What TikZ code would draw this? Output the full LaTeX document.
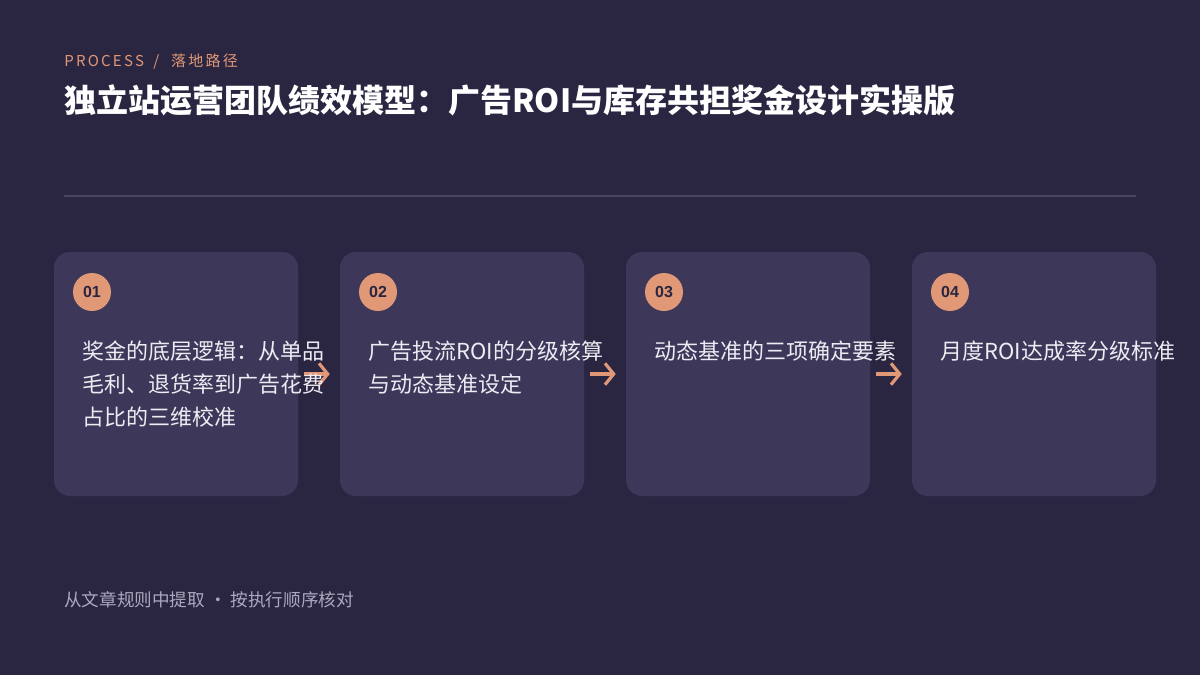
\documentclass[tikz,border=0pt]{standalone}
\usepackage{fontspec}
\setmainfont{Noto Sans CJK SC}
\newfontfamily\spaced[LetterSpace=15]{Noto Sans CJK SC}
\newfontfamily\numfont{Liberation Sans}
\usetikzlibrary{arrows.meta}
\definecolor{bg}{HTML}{2A2642}
\definecolor{card}{HTML}{3D385A}
\definecolor{accent}{HTML}{E09876}
\definecolor{rule}{HTML}{4B465F}
\definecolor{txt}{HTML}{EEEBF3}
\definecolor{muted}{HTML}{ADA8BD}
\tikzset{
  cardbox/.style={draw=none,fill=card,rounded corners=12pt,minimum width=183pt,minimum height=183pt,inner sep=0pt},
  badge/.style={circle,fill=accent,minimum size=28.5pt,inner sep=0pt,text=bg,font=\numfont\bfseries\fontsize{12pt}{13pt}\selectfont},
  cardtext/.style={anchor=base west,inner sep=0pt,text=txt,font=\fontsize{16.5pt}{24.75pt}\selectfont},
  flow/.style={draw=accent,line width=2.6pt,-{Straight Barb[length=6.5pt,width=16pt,line width=2.4pt]}}
}
\newcommand{\cardlines}[1]{\parbox[t]{260pt}{\baselineskip=24.75pt #1}}
\begin{document}
\begin{tikzpicture}[x=0.75pt,y=-0.75pt]
\fill[bg] (0,0) rectangle (1200,675);
\useasboundingbox (0,0) rectangle (1200,675);
% header
\node (sub) [anchor=base west,inner sep=0pt,text=accent,font=\fontsize{11.25pt}{13pt}\selectfont] at (64,66) {{\spaced PROCESS}\hspace{7pt}/\hspace{9pt}{\spaced 落地路径}};
\node (title) [anchor=base west,inner sep=0pt,text=white,font=\bfseries\fontsize{24pt}{28pt}\selectfont] at (64,112) {独立站运营团队绩效模型：广告ROI与库存共担奖金设计实操版};
\coordinate (rl) at (64,196);
\coordinate (rr) at (1136,196);
\draw[rule,line width=0.9pt] (rl) -- (rr);
% cards
\node (c1) [cardbox] at (176,374) {};
\node (c2) [cardbox] at (462,374) {};
\node (c3) [cardbox] at (748,374) {};
\node (c4) [cardbox] at (1034,374) {};
% badges
\node (b1) [badge] at (92,292) {01};
\node (b2) [badge] at (378,292) {02};
\node (b3) [badge] at (664,292) {03};
\node (b4) [badge] at (950,292) {04};
% arrows
\draw[flow] ([xshift=4.5pt]c1.east) -- ([xshift=-7.5pt]c2.west);
\draw[flow] ([xshift=4.5pt]c2.east) -- ([xshift=-7.5pt]c3.west);
\draw[flow] ([xshift=4.5pt]c3.east) -- ([xshift=-7.5pt]c4.west);
% texts
\node (t1) [cardtext] at (82,359) {\cardlines{奖金的底层逻辑：从单品\\毛利、退货率到广告花费\\占比的三维校准}};
\node (t2) [cardtext] at (368,359) {\cardlines{广告投流ROI的分级核算\\与动态基准设定}};
\node (t3) [cardtext] at (654,359) {\cardlines{动态基准的三项确定要素}};
\node (t4) [cardtext] at (940,359) {\cardlines{月度ROI达成率分级标准}};
% footer
\node (foot) [anchor=base west,inner sep=0pt,text=muted,font=\fontsize{13.2pt}{15pt}\selectfont] at (64,606) {从文章规则中提取\hspace{3pt}·\hspace{3pt}按执行顺序核对};
\end{tikzpicture}
\end{document}
